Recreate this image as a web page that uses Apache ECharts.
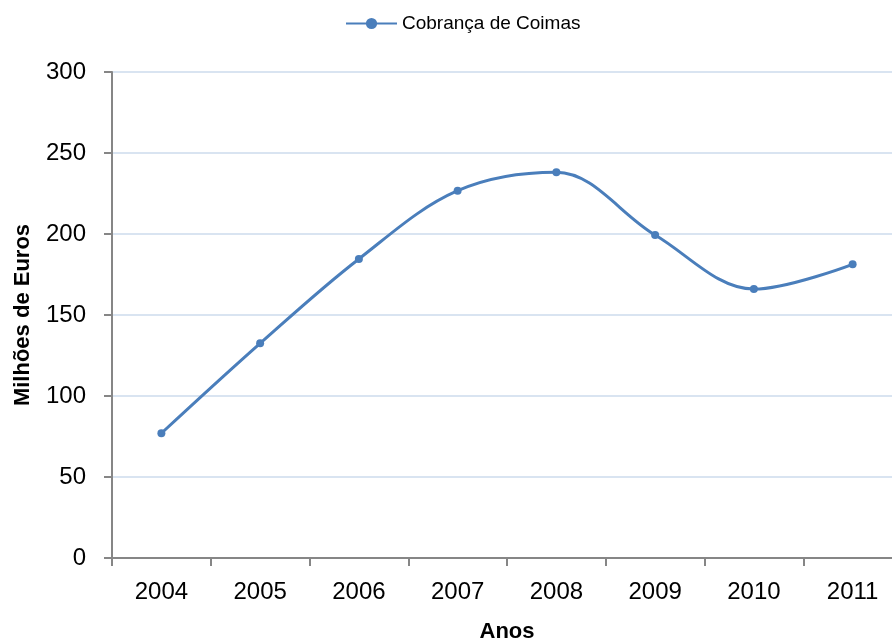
<!DOCTYPE html>
<html>
<head>
<meta charset="utf-8">
<script src="https://cdn.jsdelivr.net/npm/echarts@6/dist/echarts.min.js"></script>
<style>
  html, body { margin: 0; padding: 0; background: #fff; }
  #chart { width: 892px; height: 644px; }
</style>
</head>
<body>
<div id="chart"></div>
<script>
// 数据
const years = ['2004', '2005', '2006', '2007', '2008', '2009', '2010', '2011'];
const coimas = [77, 132.5, 184.6, 226.7, 238.1, 199.4, 166, 181.3];
const yTicks = [0, 50, 100, 150, 200, 250, 300];

const FONT = "'Liberation Sans', sans-serif";
const LINE_COLOR = '#4A7EBB';
const AXIS_COLOR = '#868686';

const chart = echarts.init(document.getElementById('chart'));

const option = {
    animation: false,
    textStyle: { fontFamily: FONT },
    legend: {
        top: 9,
        left: 340,
        itemWidth: 51,
        itemHeight: 14,
        itemGap: 6,
        textStyle: { fontFamily: FONT, fontSize: 19, color: '#000' },
        data: ['Cobrança de Coimas']
    },
    grid: {
        left: 112,
        width: 790,
        top: 72,
        bottom: 86,
        outerBoundsMode: 'none',
        containLabel: false
    },
    xAxis: {
        type: 'category',
        data: years,
        name: 'Anos',
        nameLocation: 'middle',
        nameGap: 63,
        nameTextStyle: { fontFamily: FONT, fontSize: 22, fontWeight: 'bold', color: '#000' },
        axisLine: { lineStyle: { color: AXIS_COLOR, width: 2 } },
        axisTick: { show: true, length: 8, lineStyle: { color: AXIS_COLOR, width: 2 } },
        axisLabel: { fontFamily: FONT, fontSize: 24, color: '#000', margin: 22 },
        splitLine: { show: false }
    },
    yAxis: {
        type: 'value',
        min: yTicks[0],
        max: yTicks[yTicks.length - 1],
        interval: 50,
        name: 'Milhões de Euros',
        nameLocation: 'middle',
        nameGap: 78,
        nameTextStyle: { fontFamily: FONT, fontSize: 22, fontWeight: 'bold', color: '#000' },
        axisLine: { show: true, lineStyle: { color: AXIS_COLOR, width: 2 } },
        axisTick: { show: true, length: 8, lineStyle: { color: AXIS_COLOR, width: 2 } },
        axisLabel: { fontFamily: FONT, fontSize: 24, color: '#000', margin: 26 },
        splitLine: { show: true, lineStyle: { color: '#D9E4F1', width: 2 } }
    },
    series: [{
        name: 'Cobrança de Coimas',
        type: 'line',
        data: coimas,
        smooth: 0.35,
        symbol: 'circle',
        symbolSize: 8,
        lineStyle: { color: LINE_COLOR, width: 3 },
        itemStyle: { color: LINE_COLOR }
    }]
};

chart.setOption(option);
</script>
</body>
</html>
